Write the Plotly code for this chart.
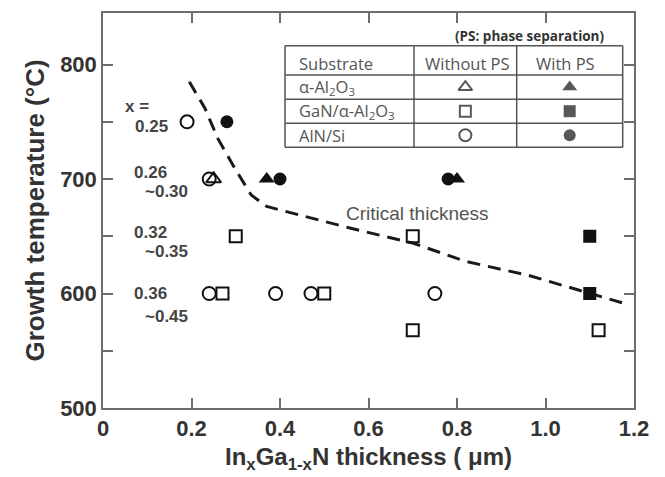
import plotly.graph_objects as go

# ---------------- data ----------------
# Without phase separation (open symbols)
tri_open_x = [0.25]
tri_open_y = [700]
sq_open_x = [0.30, 0.27, 0.50, 0.70, 0.70, 1.12]
sq_open_y = [650, 600, 600, 650, 568, 568]
circ_open_x = [0.19, 0.24, 0.24, 0.39, 0.47, 0.75]
circ_open_y = [750, 700, 600, 600, 600, 600]

# With phase separation (filled symbols)
tri_fill_x = [0.37, 0.80]
tri_fill_y = [700, 700]
sq_fill_x = [1.10, 1.10]
sq_fill_y = [650, 600]
circ_fill_x = [0.28, 0.40, 0.78]
circ_fill_y = [750, 700, 700]

# Critical thickness curve
crit_x = [0.195, 0.23, 0.26, 0.30, 0.335, 0.37, 0.45, 0.56, 0.70, 0.82, 0.96, 1.10, 1.19]
crit_y = [785, 762, 735, 708, 686, 676, 668, 657, 644, 628, 616, 600, 590]

# composition labels (x = ...)
comp_text = ["x =", "0.25", "0.26", "~0.30", "0.32", "~0.35", "0.36", "~0.45"]
comp_x = [0.045, 0.068, 0.065, 0.090, 0.065, 0.090, 0.065, 0.090]
comp_y = [763, 746, 706, 689, 653, 637, 600, 580]

x_ticks = [0, 0.2, 0.4, 0.6, 0.8, 1.0, 1.2]
x_ticktext = ["0", "0.2", "0.4", "0.6", "0.8", "1.0", "1.2"]
y_ticks = [500, 550, 600, 650, 700, 750, 800]
y_ticktext = ["500", "", "600", "", "700", "", "800"]

# legend table contents
table_rows = ["α-Al<sub>2</sub>O<sub>3</sub>", "GaN/α-Al<sub>2</sub>O<sub>3</sub>", "AlN/Si"]
table_open_symbols = ["triangle-up-open", "square-open", "circle-open"]
table_fill_symbols = ["triangle-up", "square", "circle"]

# ---------------- layout geometry ----------------
W, H = 665, 477
ML, MR, MT, MB = 103, 31, 11, 69
PW, PH = W - ML - MR, H - MT - MB


def fx(px):
    return (px - ML) / PW


def fy(py):
    return (H - MB - py) / PH


INK = "#111111"
AXC = "#6e6e6e"
TXT = "#333333"
SANS = "Liberation Sans, Arial, sans-serif"
TSANS = "Open Sans, Noto Sans, sans-serif"

fig = go.Figure()

fig.add_trace(go.Scatter(
    x=crit_x, y=crit_y, mode="lines",
    line=dict(color="#1a1a1a", width=3, dash="13px,8px"),
    hoverinfo="skip", showlegend=False))


def add_pts(xs, ys, symbol, size, lw=2):
    fig.add_trace(go.Scatter(
        x=xs, y=ys, mode="markers", showlegend=False,
        marker=dict(symbol=symbol, size=size, color=INK,
                    line=dict(color=INK, width=lw))))


add_pts(circ_open_x, circ_open_y, "circle-open", 13)
add_pts(sq_open_x, sq_open_y, "square-open", 12)
add_pts(tri_open_x, tri_open_y, "triangle-up-open", 13)
add_pts(circ_fill_x, circ_fill_y, "circle", 13, 0)
add_pts(sq_fill_x, sq_fill_y, "square", 13, 0)
add_pts(tri_fill_x, tri_fill_y, "triangle-up", 14, 0)

# ---------------- legend table ----------------
t_left, t_c1, t_c2, t_right = 285, 414, 516.7, 622.7
t_rows = [44, 73.3, 97.7, 121.7, 146]
lc = "#555555"
shapes = []
for r in t_rows:
    shapes.append(dict(type="line", xref="paper", yref="paper",
                       x0=fx(t_left), x1=fx(t_right), y0=fy(r), y1=fy(r),
                       line=dict(color=lc, width=1.5)))
for c in [t_left, t_c1, t_c2, t_right]:
    shapes.append(dict(type="line", xref="paper", yref="paper",
                       x0=fx(c), x1=fx(c), y0=fy(t_rows[0]), y1=fy(t_rows[-1]),
                       line=dict(color=lc, width=1.5)))

row_centers = [(t_rows[i + 1] + t_rows[i + 2]) / 2 for i in range(3)]
colA = (t_c1 + t_c2) / 2
colB = (t_c2 + t_right) / 2

fig.add_trace(go.Scatter(
    x=[fx(colA)] * 3, y=[fy(r) for r in row_centers], xaxis="x2", yaxis="y2",
    mode="markers", showlegend=False, hoverinfo="skip",
    marker=dict(symbol=table_open_symbols, size=[12, 11, 12], color=INK,
                line=dict(color=INK, width=2))))
fig.add_trace(go.Scatter(
    x=[fx(colB)] * 3, y=[fy(r) for r in row_centers], xaxis="x2", yaxis="y2",
    mode="markers", showlegend=False, hoverinfo="skip",
    marker=dict(symbol=table_fill_symbols, size=[13, 12, 12], color=INK,
                line=dict(width=0))))

tfont = dict(family=TSANS, size=16.5, color="#555555")
ann = []
ann.append(dict(xref="paper", yref="paper", x=fx(297), y=fy(62), text="Substrate",
                showarrow=False, xanchor="left", yanchor="middle", font=tfont))
ann.append(dict(xref="paper", yref="paper", x=fx(467.8), y=fy(62), text="Without PS",
                showarrow=False, xanchor="center", yanchor="middle", font=tfont))
ann.append(dict(xref="paper", yref="paper", x=fx(565), y=fy(62), text="With PS",
                showarrow=False, xanchor="center", yanchor="middle", font=tfont))
for txt, rc in zip(table_rows, row_centers):
    ann.append(dict(xref="paper", yref="paper", x=fx(297), y=fy(rc), text=txt,
                    showarrow=False, xanchor="left", yanchor="middle", font=tfont))
ann.append(dict(xref="paper", yref="paper", x=fx(529), y=fy(34),
                text="<b>(PS: phase separation)</b>", showarrow=False,
                xanchor="center", yanchor="middle",
                font=dict(family=TSANS, size=13.5, color="#333333")))

# Critical thickness label
ann.append(dict(x=0.71, y=670, text="Critical thickness", showarrow=False,
                xanchor="center", yanchor="middle",
                font=dict(family=SANS, size=19, color="#555555")))

# composition labels
for t, xx, yy in zip(comp_text, comp_x, comp_y):
    ann.append(dict(x=xx, y=yy, text=t, showarrow=False, xanchor="left", yanchor="middle",
                    font=dict(family=SANS, size=17, color="#444444", weight="bold")))

axis_common = dict(showline=True, linecolor=AXC, linewidth=1.5, mirror="ticks",
                   ticks="inside", ticklen=10, tickcolor=AXC, tickwidth=1.5,
                   showgrid=False, zeroline=False,
                   tickfont=dict(family=SANS, size=22, color=TXT, weight="bold"))

fig.update_layout(
    width=W, height=H,
    margin=dict(l=ML, r=MR, t=MT, b=MB),
    plot_bgcolor="white", paper_bgcolor="white",
    shapes=shapes, annotations=ann,
    xaxis=dict(range=[0, 1.2], tickvals=x_ticks, ticktext=x_ticktext,
               title=dict(text="In<sub>x</sub>Ga<sub>1-x</sub>N thickness ( μm)", standoff=8,
                          font=dict(family=SANS, size=24, color=TXT, weight="bold")),
               **axis_common),
    yaxis=dict(range=[500, 845], tickvals=y_ticks, ticktext=y_ticktext,
               title=dict(text="Growth temperature (°C)", standoff=8,
                          font=dict(family=SANS, size=26, color=TXT, weight="bold")),
               **axis_common),
    xaxis2=dict(overlaying="x", range=[0, 1], visible=False),
    yaxis2=dict(overlaying="y", range=[0, 1], visible=False),
    showlegend=False,
)

fig.write_html("out.html")
